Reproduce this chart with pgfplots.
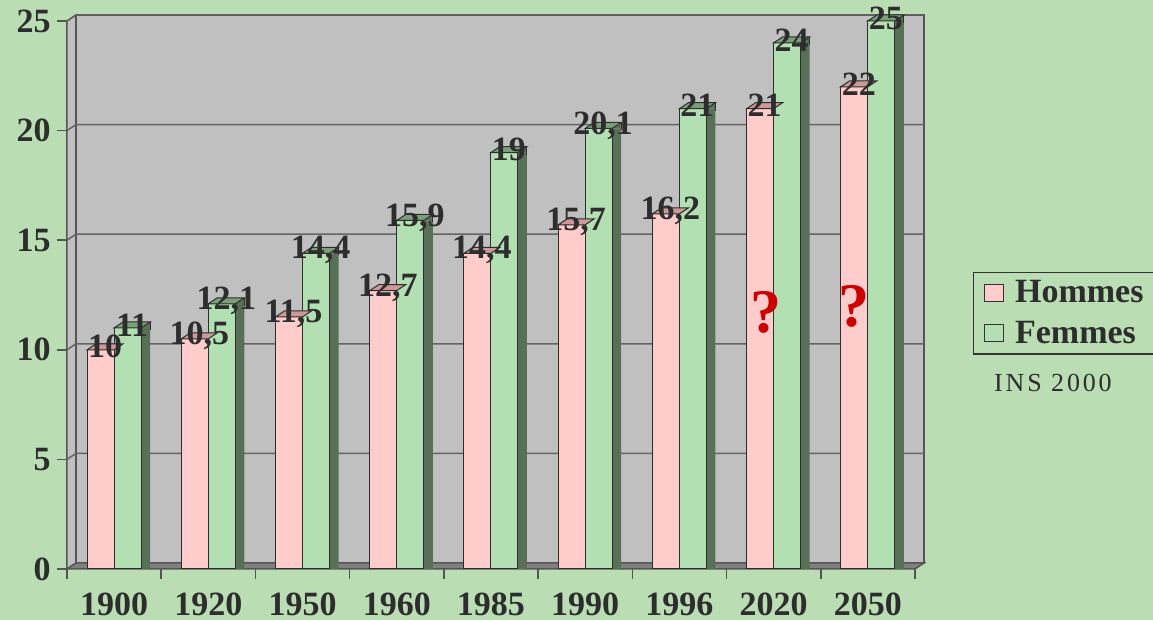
\documentclass[border=0pt]{standalone}
\usepackage{pgfplots}
\pgfplotsset{compat=1.18}
\usepackage{pgfplotstable}
\usepackage{fontspec}
\setmainfont{Liberation Serif}
\definecolor{bgc}{RGB}{186,221,180}
\definecolor{wallc}{RGB}{192,192,192}
\definecolor{floorc}{RGB}{128,128,128}
\definecolor{edgec}{RGB}{85,85,85}
\definecolor{gridc}{RGB}{100,100,100}
\definecolor{pinkc}{RGB}{255,204,204}
\definecolor{pinktop}{RGB}{204,153,153}
\definecolor{greenc}{RGB}{179,224,179}
\definecolor{greentop}{RGB}{122,160,122}
\definecolor{sidec}{RGB}{88,112,88}
\definecolor{txtc}{RGB}{45,45,45}
\definecolor{qred}{RGB}{204,0,0}
\newcommand{\lab}{\fontsize{17}{20}\selectfont\bfseries}

\pgfdeclareplotmark{toppink}{%
  \pgfpathmoveto{\pgfqpoint{-6.75pt}{0pt}}%
  \pgfpathlineto{\pgfqpoint{6.75pt}{0pt}}%
  \pgfpathlineto{\pgfqpoint{11.25pt}{3pt}}%
  \pgfpathlineto{\pgfqpoint{-2.25pt}{3pt}}%
  \pgfpathclose
  \pgfusepathqfillstroke}
\pgfdeclareplotmark{topgreen}{%
  \pgfsetfillcolor{sidec}%
  \pgfpathmoveto{\pgfqpoint{6.75pt}{0pt}}%
  \pgfpathlineto{\pgfqpoint{11.25pt}{3pt}}%
  \pgfpathlineto{\pgfqpoint{11.25pt}{0pt}}%
  \pgfpathclose
  \pgfusepathqfill
  \pgfpathmoveto{\pgfqpoint{11.25pt}{3pt}}%
  \pgfpathlineto{\pgfqpoint{11.25pt}{-1pt}}%
  \pgfusepathqstroke
  \pgfsetfillcolor{greentop}%
  \pgfpathmoveto{\pgfqpoint{-6.75pt}{0pt}}%
  \pgfpathlineto{\pgfqpoint{6.75pt}{0pt}}%
  \pgfpathlineto{\pgfqpoint{11.25pt}{3pt}}%
  \pgfpathlineto{\pgfqpoint{-2.25pt}{3pt}}%
  \pgfpathclose
  \pgfusepathqfillstroke}

\pgfplotstableread{
x h f
0 10 11
1 10.5 12.1
2 11.5 14.4
3 12.7 15.9
4 14.4 19
5 15.7 20.1
6 16.2 21
7 21 24
8 22 25
}\data

\pgfplotsset{/pgf/number format/assume math mode=true, /pgf/number format/use comma}

\begin{document}
\begin{tikzpicture}
\useasboundingbox (0pt,0pt) rectangle (576.5pt,310pt);
\clip (0pt,0pt) rectangle (576.5pt,310pt);
\fill[bgc] (0pt,0pt) rectangle (576.5pt,310pt);
\begin{axis}[
  at={(33.5pt,25.5pt)}, anchor=origin, scale only axis,
  width=424pt, height=274pt,
  xmin=0, xmax=9, ymin=0, ymax=25, clip=false,
  axis lines*=left, axis line style={draw=none},
  ytick={0,5,...,25},
  xtick={0,...,9}, xticklabels={,,,,,,,,,},
  extra x ticks={0.5,1.5,...,8.5},
  extra x tick labels={1900,1920,1950,1960,1985,1990,1996,2020,2050},
  extra x tick style={major tick length=0pt,
    xticklabel style={font=\lab, text=txtc, yshift=-8.5pt}},
  tick align=outside, major tick length=5pt,
  tick style={edgec, line width=0.75pt},
  yticklabel style={font=\lab, text=txtc, inner xsep=3pt},
  legend style={at={(1.0684,0.542)}, anchor=north west, draw=black!80,
    line width=0.6pt, fill=none, font=\lab, text=txtc,
    inner xsep=5pt, inner ysep=4pt, row sep=7.5pt,
    nodes={inner sep=0pt}},
  legend cell align=left,
  legend image code/.code={\draw[#1, draw=black!80, line width=0.5pt] (0pt,-4.25pt) rectangle (9.5pt,4.25pt); \path[draw=none, fill=none] (0pt,0pt) rectangle (15.5pt,0.1pt);},
]
% walls
\filldraw[fill=wallc, draw=edgec, line width=0.75pt] ([xshift=4.5pt,yshift=3pt]axis cs:0,0) rectangle ([xshift=4.5pt,yshift=3pt]axis cs:9,25);
\filldraw[fill=wallc, draw=edgec, line width=0.75pt] (axis cs:0,0) -- (axis cs:0,25) -- ([xshift=4.5pt,yshift=3pt]axis cs:0,25) -- ([xshift=4.5pt,yshift=3pt]axis cs:0,0) -- cycle;
\filldraw[fill=floorc, draw=edgec, line width=0.75pt] (axis cs:0,0) -- (axis cs:9,0) -- ([xshift=4.5pt,yshift=3pt]axis cs:9,0) -- ([xshift=4.5pt,yshift=3pt]axis cs:0,0) -- cycle;
\pgfplotsinvokeforeach{5,10,15,20,25}{
  \draw[gridc, line width=0.75pt] (axis cs:0,#1) -- ([xshift=4.5pt,yshift=3pt]axis cs:0,#1) -- ([xshift=4.5pt,yshift=3pt]axis cs:9,#1);
}
% Hommes
\addplot[ybar, bar width=0.2866, bar shift=0pt, fill=pinkc, draw=txtc, line width=0.5pt]
  table[x expr=\thisrow{x}+0.5-0.1433, y=h] {\data};
\addlegendentry{Hommes}
\addplot[only marks, mark=toppink, mark options={fill=pinktop, draw=txtc, line width=0.5pt}, forget plot]
  table[x expr=\thisrow{x}+0.5-0.1433, y=h] {\data};
% Femmes
\addplot[ybar, bar width=0.0955, bar shift=0pt, fill=sidec, draw=none, forget plot]
  table[x expr=\thisrow{x}+0.5+0.3344, y=f] {\data};
\addplot[ybar, bar width=0.2866, bar shift=0pt, fill=greenc, draw=txtc, line width=0.5pt]
  table[x expr=\thisrow{x}+0.5+0.1433, y=f] {\data};
\addlegendentry{Femmes}
\addplot[only marks, mark=topgreen, mark options={draw=txtc, line width=0.5pt}, forget plot]
  table[x expr=\thisrow{x}+0.5+0.1433, y=f] {\data};
% value labels
\addplot[draw=none, mark=none, forget plot, nodes near coords,
  every node near coord/.append style={font=\lab, text=txtc, anchor=center, xshift=2.25pt, yshift=1.5pt, inner sep=0pt}]
  table[x expr=\thisrow{x}+0.5-0.1433, y=h] {\data};
\addplot[draw=none, mark=none, forget plot, nodes near coords,
  every node near coord/.append style={font=\lab, text=txtc, anchor=center, xshift=2.25pt, yshift=1.5pt, inner sep=0pt}]
  table[x expr=\thisrow{x}+0.5+0.1433, y=f] {\data};
% question marks
\node[text=qred, font=\fontsize{31}{36}\selectfont\bfseries] at (axis cs:7.419,11.7) {?};
\node[text=qred, font=\fontsize{31}{36}\selectfont\bfseries] at (axis cs:8.353,12.0) {?};
\end{axis}
\node[text=txtc, font=\fontsize{13}{15}\selectfont\addfontfeatures{LetterSpace=11}] at (526.5pt,118.5pt) {INS 2000};
\end{tikzpicture}
\end{document}
